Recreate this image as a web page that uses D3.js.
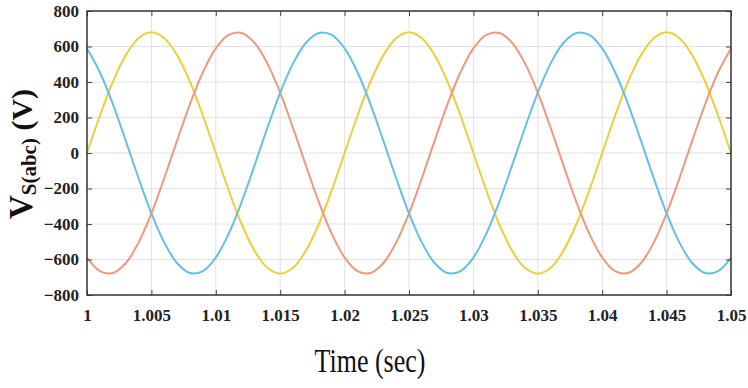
<!DOCTYPE html>
<html>
<head>
<meta charset="utf-8">
<script src="https://cdn.jsdelivr.net/npm/d3@7"></script>
<style>
  body { margin: 0; background: #fff; }
  svg { display: block; }
  .tick text { font-family: "Liberation Serif", "DejaVu Serif", serif; font-weight: bold; font-size: 17px; fill: #222; }
</style>
</head>
<body>
<svg id="chart"></svg>
<script>
// sample times (sec), one every 1 ms
const timeStart = 1, timeStep = 0.001, sampleCount = 51;
const times = d3.range(sampleCount).map(i => timeStart + i * timeStep);

// phase voltages (V)
const phaseA = [0, 210, 400, 550, 647, 680, 647, 550, 400, 210, 0, -210, -400, -550, -647, -680, -647, -550, -400, -210,
                0, 210, 400, 550, 647, 680, 647, 550, 400, 210, 0, -210, -400, -550, -647, -680, -647, -550, -400, -210,
                0, 210, 400, 550, 647, 680, 647, 550, 400, 210, 0];
const phaseB = [-589, -665, -676, -621, -505, -340, -141, 71, 277, 455, 589, 665, 676, 621, 505, 340, 141, -71, -277, -455,
                -589, -665, -676, -621, -505, -340, -141, 71, 277, 455, 589, 665, 676, 621, 505, 340, 141, -71, -277, -455,
                -589, -665, -676, -621, -505, -340, -141, 71, 277, 455, 589];
const phaseC = [589, 455, 277, 71, -141, -340, -505, -621, -676, -665, -589, -455, -277, -71, 141, 340, 505, 621, 676, 665,
                589, 455, 277, 71, -141, -340, -505, -621, -676, -665, -589, -455, -277, -71, 141, 340, 505, 621, 676, 665,
                589, 455, 277, 71, -141, -340, -505, -621, -676, -665, -589];

const xTicks = [1, 1.005, 1.01, 1.015, 1.02, 1.025, 1.03, 1.035, 1.04, 1.045, 1.05];
const yTicks = [-800, -600, -400, -200, 0, 200, 400, 600, 800];

const series = [
  { name: "a", values: phaseA, color: "#ebcf3c" },
  { name: "b", values: phaseB, color: "#eb9a7f" },
  { name: "c", values: phaseC, color: "#66bfe4" }
];

const W = 748, H = 388;
const margin = { top: 11, right: 17, bottom: 93, left: 87 };
const width = W - margin.left - margin.right;
const height = H - margin.top - margin.bottom;

const svg = d3.select("#chart").attr("width", W).attr("height", H);
const g = svg.append("g").attr("transform", `translate(${margin.left},${margin.top})`);

const x = d3.scaleLinear().domain([1, 1.05]).range([0, width]);
const y = d3.scaleLinear().domain([-800, 800]).range([height, 0]);

// grid
g.append("g").selectAll("line").data(xTicks.slice(1, -1)).enter().append("line")
  .attr("x1", d => x(d)).attr("x2", d => x(d)).attr("y1", 0).attr("y2", height)
  .attr("stroke", "#e2e2e2").attr("stroke-width", 1);
g.append("g").selectAll("line").data(yTicks.slice(1, -1)).enter().append("line")
  .attr("y1", d => y(d)).attr("y2", d => y(d)).attr("x1", 0).attr("x2", width)
  .attr("stroke", "#e2e2e2").attr("stroke-width", 1);

// curves
const line = d3.line()
  .x((d, i) => x(times[i]))
  .y(d => y(d))
  .curve(d3.curveCatmullRom);

g.selectAll(".wave").data(series).enter().append("path")
  .attr("class", "wave")
  .attr("d", d => line(d.values))
  .attr("fill", "none")
  .attr("stroke", d => d.color)
  .attr("stroke-width", 2);

// axes with inward ticks on all sides
const fmtX = d => d3.format("")(+d.toFixed(3));
g.append("g").attr("transform", `translate(0,${height})`)
  .call(d3.axisBottom(x).tickValues(xTicks).tickFormat(fmtX).tickSizeInner(-5).tickSizeOuter(0).tickPadding(14));
g.append("g")
  .call(d3.axisLeft(y).tickValues(yTicks).tickSizeInner(-5).tickSizeOuter(0).tickPadding(8));
g.append("g")
  .call(d3.axisTop(x).tickValues(xTicks).tickFormat("").tickSizeInner(-5).tickSizeOuter(0));
g.append("g").attr("transform", `translate(${width},0)`)
  .call(d3.axisRight(y).tickValues(yTicks).tickFormat("").tickSizeInner(-5).tickSizeOuter(0));

g.selectAll(".domain").remove();
g.selectAll(".tick line").attr("stroke", "#444");

// frame
g.append("rect").attr("width", width).attr("height", height)
  .attr("fill", "none").attr("stroke", "#333").attr("stroke-width", 1.5);

// axis titles
svg.append("text")
  .attr("transform", `translate(370,372) scale(1,1.3)`)
  .attr("text-anchor", "middle")
  .style("font-family", "'Liberation Serif', serif")
  .style("font-size", "26px")
  .style("fill", "#111")
  .text("Time (sec)");

const yl = svg.append("text")
  .attr("transform", `translate(32,154) rotate(-90)`)
  .attr("text-anchor", "middle")
  .style("font-family", "'Liberation Serif', serif")
  .style("font-weight", "bold")
  .style("fill", "#111");
yl.append("tspan").style("font-size", "33px").text("V");
yl.append("tspan").style("font-size", "21px").attr("dy", 4).text("S(abc)");
yl.append("tspan").style("font-size", "30px").attr("dy", -4).text(" (V)");
</script>
</body>
</html>
